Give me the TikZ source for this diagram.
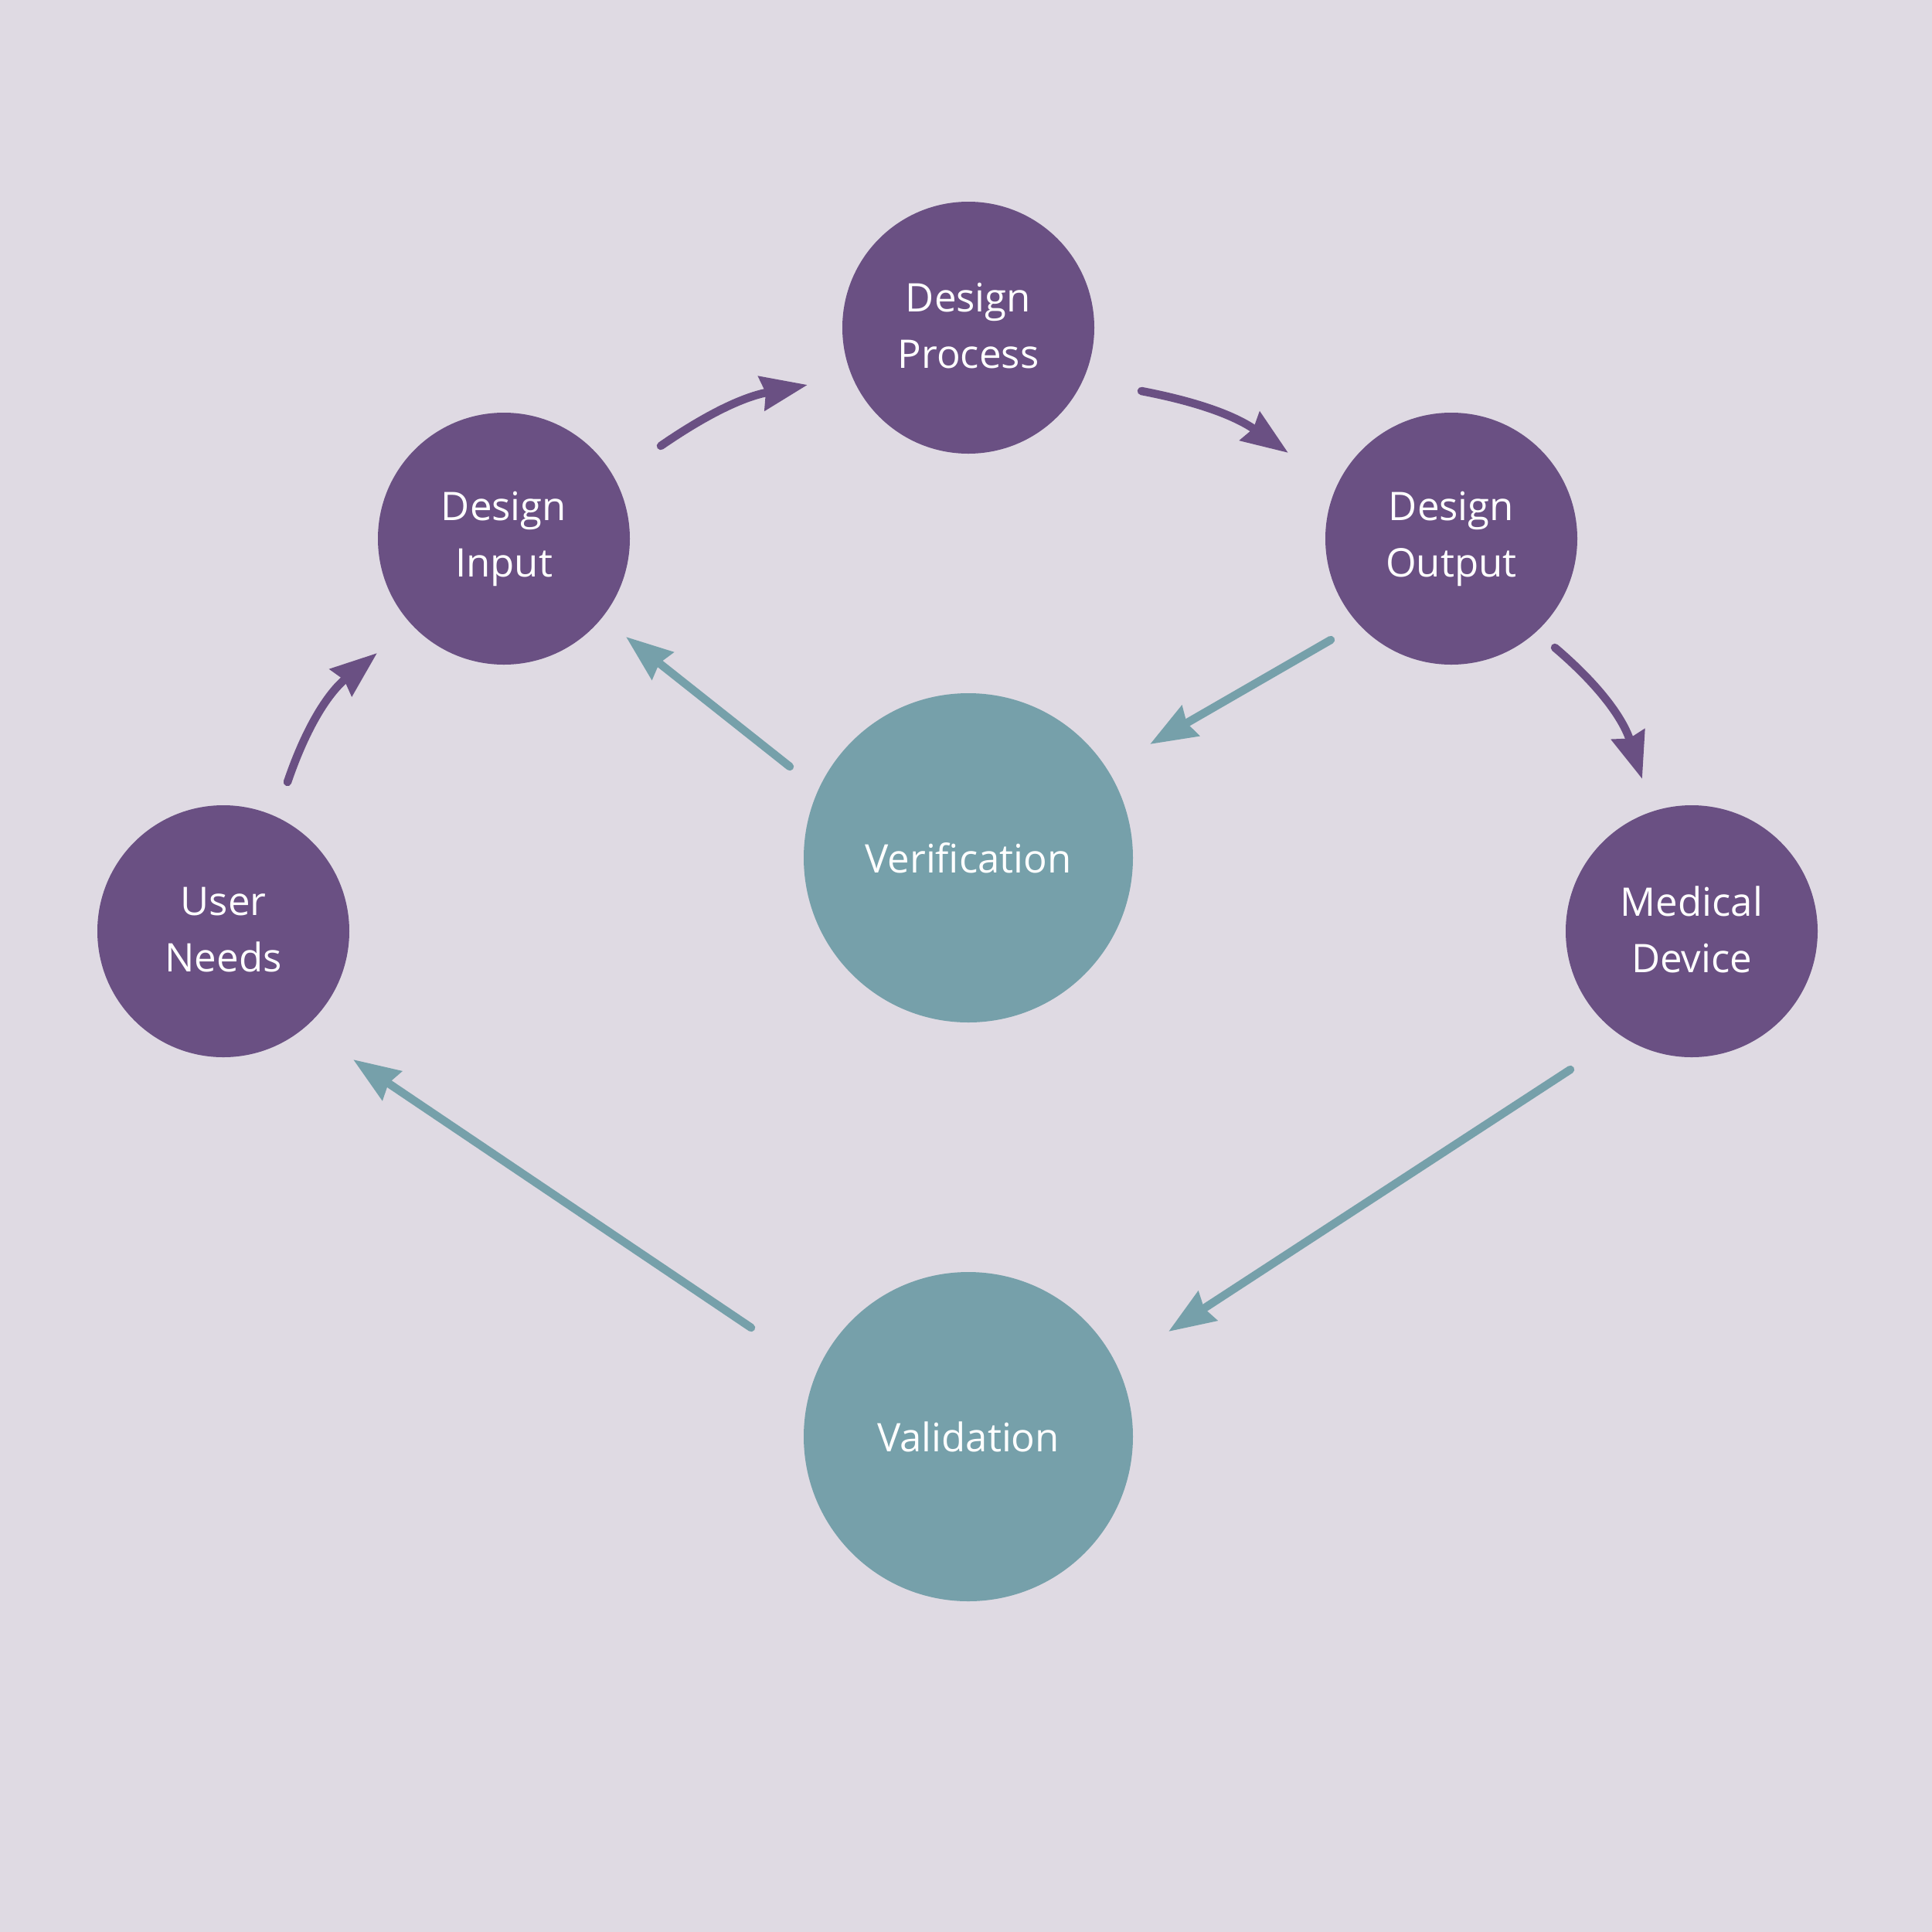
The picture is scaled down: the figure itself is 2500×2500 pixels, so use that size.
\documentclass[tikz,border=0pt]{standalone}
\usepackage{fontspec}
\setmainfont{Open Sans}
\usetikzlibrary{arrows.meta}
\definecolor{bgc}{HTML}{DFDAE3}
\definecolor{purp}{HTML}{6A5083}
\definecolor{teal2}{HTML}{76A0AA}
\tikzset{
  pcirc/.style={circle,fill=purp,minimum size=326*0.1mm,inner sep=0pt,text=white,align=center,font=\fontsize{14.5pt}{20.8pt}\selectfont},
  tcirc/.style={circle,fill=teal2,minimum size=426*0.1mm,inner sep=0pt,text=white,align=center,font=\fontsize{14.5pt}{20.8pt}\selectfont},
  parr/.style={draw=purp,line width=1.05mm,line cap=round,-{Stealth[length=6mm,width=4.4mm,inset=0.5mm,fill=purp]}},
  tarr/.style={draw=teal2,line width=1.05mm,line cap=round,-{Stealth[length=6mm,width=4.4mm,inset=0.5mm,fill=teal2]}}
}
\begin{document}
\begin{tikzpicture}[x=0.1mm,y=-0.1mm]
\fill[bgc] (0,0) rectangle (2500,2500);
\useasboundingbox (0,0) rectangle (2500,2500);
\node[pcirc] (dp) at (1253,424) {\raisebox{0.5mm}{Design}\\\raisebox{0.5mm}{Process}};
\node[pcirc] (di) at (652,697) {\raisebox{0.5mm}{Design}\\\raisebox{0.5mm}{Input}};
\node[pcirc] (do) at (1878,697) {\raisebox{0.5mm}{Design}\\\raisebox{0.5mm}{Output}};
\node[pcirc] (un) at (289,1205) {\raisebox{0.5mm}{User}\\\raisebox{0.5mm}{Needs}};
\node[pcirc] (md) at (2189,1205) {\raisebox{0.5mm}{Medical}\\\raisebox{0.5mm}{Device}};
\node[tcirc] (ver) at (1253,1110) {Verification};
\node[tcirc] (val) at (1253,1859) {Validation};
% connector ends
\coordinate (a1s) at (372,1012); \coordinate (a1e) at (488,845);
\coordinate (a2s) at (855,577);  \coordinate (a2e) at (1045,498);
\coordinate (a3s) at (1477,506); \coordinate (a3e) at (1667,586);
\coordinate (a4s) at (2012,838); \coordinate (a4e) at (2125,1008);
\coordinate (a5s) at (1722,828); \coordinate (a5e) at (1488,963);
\coordinate (a6s) at (1022,992); \coordinate (a6e) at (810,824);
\coordinate (a7s) at (972,1718); \coordinate (a7e) at (457,1371);
\coordinate (a8s) at (2032,1384); \coordinate (a8e) at (1512,1723);
\draw[parr] (a1s) to[bend left=16] (a1e);
\draw[parr] (a2s) to[bend left=12] (a2e);
\draw[parr] (a3s) to[bend left=12] (a3e);
\draw[parr] (a4s) to[bend left=16] (a4e);
\draw[tarr] (a5s) -- (a5e);
\draw[tarr] (a6s) -- (a6e);
\draw[tarr] (a7s) -- (a7e);
\draw[tarr] (a8s) -- (a8e);
\end{tikzpicture}
\end{document}
